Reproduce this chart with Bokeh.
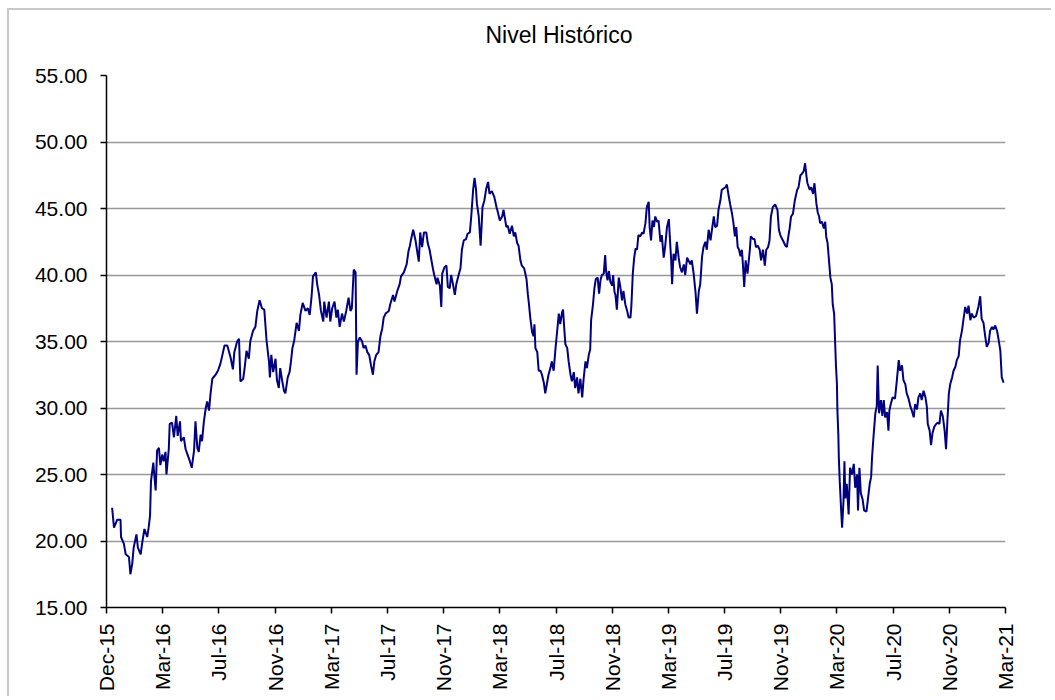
from bokeh.plotting import figure
from bokeh.models import FixedTicker, Range1d, Title
from bokeh.embed import file_html
from bokeh.resources import INLINE

# ---- data (x = days since axis start 1-Dec-2015) ----
days = [12,16,23,30,31,37,41,48,51,55,58,64,67,73,76,81,87,90,93,95,100,102,105,108,112,115,119,122,126,128,
        133,135,140,144,149,152,157,159,165,169,174,178,182,187,190,194,197,201,204,208,212,215,219,222,226,233,
        238,243,247,252,258,265,270,273,279,283,286,292,295,299,304,307,313,318,322,327,
        332,337,342,347,349,352,356,361,364,368,371,375,379,382,387,391,394,397,401,406,411,414,419,425,430,434,
        438,441,447,450,454,458,463,465,470,475,478,482,487,491,494,498,503,507,512,517,521,524,528,532,534,537,
        541,546,549,553,557,561,565,569,572,576,581,585,589,592,596,603,606,612,615,621,626,629,635,641,645,
        648,650,655,660,663,667,670,674,678,683,686,690,693,697,700,705,707,712,715,717,722,726,729,733,736,740,
        744,747,752,756,759,763,768,771,776,779,783,786,789,791,795,799,801,803,807,811,815,818,823,828,833,836,
        840,845,848,854,857,861,866,870,873,877,880,884,887,892,897,900,902,905,909,912,914,916,920,923,927,930,
        934,937,941,944,
        948,951,955,959,962,966,969,973,975,978,980,984,987,991,994,998,1001,1005,1008,1012,1016,1019,1023,1026,
        1030,1033,1035,1039,1042,1045,1049,1052,1055,1058,1062,1065,1067,1070,1073,1076,1080,1082,1085,1087,1090,
        1094,1097,1101,1104,1108,1112,1115,1119,1121,1124,1127,1130,1133,1136,1140,1144,1147,1151,1154,1158,1160,
        1163,1166,1169,1172,1176,1179,1183,1186,1190,1193,1197,1201,1203,1206,1208,1211,1215,1218,1222,1225,1229,
        1233,1236,1240,1243,1247,1250,1254,1258,1261,1265,
        1268,1272,1275,1279,1282,1286,1290,1293,1297,1300,1304,1307,1311,1314,1318,1322,1325,1329,1332,1336,1339,
        1342,1345,1348,1351,1354,1357,1359,1362,1365,1369,1374,1376,1381,1384,1387,1391,1395,1398,1402,1406,1409,
        1413,1416,1419,1423,1428,1433,1436,1439,1443,1446,1450,1453,1457,1459,1462,1466,1470,1475,1478,1482,1485,
        1489,1492,1495,1497,1502,1505,1509,1512,1516,1519,1522,1524,1528,1532,1535,1537,1540,1543,1546,1549,1551,
        1554,1556,1558,1560,1561,1563,1564,1566,1569,1571,1574,1576,1578,1581,1585,
        1588,1592,1596,1599,1603,1605,1608,1611,1615,1618,1623,1626,1630,1633,1635,1638,1642,1645,1647,1650,1654,
        1657,1660,1663,1667,1670,1672,1675,1679,1684,1688,1692,1695,1699,1702,1706,1709,1713,1717,1720,1724,1727,
        1731,1734,1738,1741,1745,1749,1752,1754,1758,1761,1764,1768,1772,1775,1779,1782,1786,1790,1793,1796,1799,
        1802,1806,1809,1813,1816,1820,1823,1827,1830,1834,1838,1841,1845,1848,1852,1857,1862,1866,1869,1873,1877,
        1880,1884,1887,1891,1894,1898,1902,1905,1909,1912,1916]

values = [22.5,21.0,21.6,21.6,20.3,19.8,19.0,18.8,17.5,18.3,19.5,20.5,19.5,19.0,19.8,20.9,20.3,21.0,21.9,24.5,
          25.9,25.0,23.8,26.8,27.0,25.7,26.5,26.0,26.7,25.0,26.9,28.8,28.9,27.8,29.4,27.9,29.0,27.5,27.8,26.9,
          26.4,26.0,25.5,26.8,29.0,27.0,26.7,28.0,27.5,29.0,30.0,30.5,29.8,31.0,32.2,32.5,32.8,33.3,33.9,34.7,
          34.7,33.8,32.9,34.2,35.0,35.2,32.0,32.2,33.0,34.3,33.7,35.0,35.8,36.1,37.3,38.1,
          37.5,37.4,35.0,33.5,32.3,34.0,32.7,33.7,32.1,31.5,33.0,32.1,31.3,31.1,32.3,32.7,33.5,34.5,35.1,36.4,
          35.8,37.0,37.9,37.3,37.5,37.0,38.4,39.9,40.2,39.3,38.5,37.3,36.5,38.0,36.8,38.0,36.5,37.5,38.0,36.8,
          37.4,36.1,37.1,36.5,37.3,38.3,37.3,37.5,40.4,40.2,32.5,35.0,35.3,35.0,34.5,34.7,34.2,34.0,33.2,32.5,
          33.5,34.0,34.2,35.4,36.0,36.8,37.1,37.3,37.8,38.5,38.0,38.8,39.3,39.9,40.2,40.8,41.8,
          42.2,42.6,43.4,42.6,41.9,41.0,43.2,42.1,43.2,43.2,42.4,41.9,41.3,40.5,40.0,39.3,39.8,39.2,37.6,40.1,
          40.6,40.7,39.1,39.0,40.0,39.3,38.5,39.3,40.0,40.5,41.9,42.6,42.7,43.1,43.2,44.4,46.4,47.3,46.5,45.4,
          44.4,42.2,43.6,45.1,45.6,46.5,47.0,46.1,46.3,45.9,45.1,44.7,44.1,44.4,44.9,43.6,43.7,43.1,43.7,42.9,
          43.2,42.4,42.2,41.1,40.7,40.5,39.7,38.5,37.9,36.8,35.7,35.4,36.3,34.5,34.2,32.8,32.8,32.5,31.9,31.1,
          31.9,32.5,
          33.0,33.5,32.8,34.5,35.6,37.1,36.3,37.2,37.4,35.8,34.8,34.5,33.5,32.5,32.0,32.7,31.5,32.3,31.1,32.2,
          30.8,32.2,33.5,33.0,34.0,34.4,36.6,37.8,39.0,39.7,39.8,38.6,39.6,40.0,40.1,41.5,40.3,39.6,40.3,39.5,
          39.2,40.0,38.7,38.5,37.4,39.8,39.2,38.1,38.8,37.8,37.3,36.8,36.8,37.7,40.1,41.3,42.0,41.9,43.0,42.9,
          43.2,43.1,43.9,45.1,45.5,43.6,42.6,44.1,43.6,44.4,44.0,44.1,42.5,43.0,41.3,42.1,43.6,44.2,42.9,41.1,
          39.3,41.6,41.1,42.5,41.3,40.6,40.2,40.8,40.0,41.3,41.1,40.8,41.1,40.1,38.7,37.1,38.8,
          39.3,41.4,42.1,42.5,41.9,43.4,42.6,43.4,44.4,43.6,43.7,44.9,45.6,46.4,46.5,46.6,46.8,45.9,45.3,44.6,
          43.9,42.9,43.6,42.1,41.9,41.4,41.9,40.9,39.1,41.1,40.1,41.9,42.9,42.7,42.7,42.1,42.2,41.9,41.1,41.9,
          40.7,41.9,42.1,42.6,44.4,45.1,45.3,44.9,43.4,43.0,42.7,42.5,42.2,42.1,43.1,43.5,44.4,44.6,45.6,46.4,
          46.6,47.5,47.6,47.8,48.4,47.4,46.9,46.4,46.6,46.1,46.9,45.4,44.7,44.4,43.9,44.0,43.5,44.0,42.9,42.4,
          41.1,39.8,39.3,37.8,37.1,35.1,33.1,31.8,29.8,28.0,26.3,24.5,22.3,21.0,23.0,26.0,23.2,24.3,22.0,
          25.5,25.0,25.8,24.0,25.0,22.3,25.5,23.6,23.1,22.3,22.2,23.1,24.3,24.8,26.3,27.8,29.6,30.1,33.2,29.6,
          30.6,29.4,30.6,29.3,29.7,28.3,29.8,30.3,30.8,30.7,32.1,33.6,32.8,33.2,32.1,31.8,31.1,30.7,30.1,29.8,
          29.3,30.3,29.9,30.8,31.1,30.6,31.3,30.8,30.1,28.8,28.3,27.2,28.1,28.6,28.8,28.9,28.8,29.8,29.4,28.3,
          26.9,29.1,31.1,31.8,32.3,32.8,33.1,33.6,33.9,35.1,35.8,36.6,37.6,37.1,37.7,36.6,37.1,36.8,36.9,37.6,
          38.4,36.7,36.4,35.3,34.6,34.9,35.8,36.1,35.9,36.2,35.8,35.2,34.3,32.3,31.9]

tick_days = [0, 120, 240, 360, 480, 600, 720, 840, 960, 1080, 1200, 1320, 1440, 1560, 1680, 1800, 1920]
tick_labels = ["Dec-15", "Mar-16", "Jul-16", "Nov-16", "Mar-17", "Jul-17", "Nov-17", "Mar-18", "Jul-18",
               "Nov-18", "Mar-19", "Jul-19", "Nov-19", "Mar-20", "Jul-20", "Nov-20", "Mar-21"]
y_ticks = [15, 20, 25, 30, 35, 40, 45, 50, 55]

FONT = "Liberation Sans"

p = figure(width=1044, height=688, output_backend="svg", toolbar_location=None,
           x_range=Range1d(tick_days[0], tick_days[-1]), y_range=Range1d(15, 55),
           min_border_left=97, min_border_right=48, min_border_top=65, min_border_bottom=91)
p.styles = {"margin-left": "7px", "margin-top": "8px",
            "border-left": "2px solid #c8c8c8", "border-top": "2px solid #c8c8c8"}
p.background_fill_color = "white"
p.border_fill_color = "white"
p.outline_line_color = None

# small empty spacer between frame and the title, so the title sits higher up
spacer = Title(text=" ", text_font=FONT, text_font_size="1px", standoff=12)
p.add_layout(spacer, "above")
t = Title(text="Nivel Histórico", align="left", vertical_align="top", text_font=FONT,
          text_font_size="23px", text_font_style="normal", text_color="#000000",
          standoff=22, offset=379)
p.add_layout(t, "above")

p.line(days, values, line_color="#000080", line_width=2)

# axes
p.xaxis.ticker = FixedTicker(ticks=tick_days)
p.xaxis.major_label_overrides = {d: l for d, l in zip(tick_days, tick_labels)}
p.xaxis.major_label_orientation = 3.14159265 / 2
p.yaxis.ticker = FixedTicker(ticks=y_ticks)
p.yaxis.major_label_overrides = {v: f"{v:.2f}" for v in y_ticks}
for ax in (p.xaxis, p.yaxis):
    ax.axis_line_color = "black"
    ax.axis_line_width = 1.5
    ax.major_tick_line_color = "black"
    ax.major_tick_line_width = 1.5
    ax.major_tick_out = 6
    ax.major_tick_in = 0
    ax.minor_tick_line_color = None
    ax.major_label_text_font = FONT
    ax.major_label_text_font_size = "21px"
    ax.major_label_text_color = "#000000"
p.xaxis.major_label_standoff = 10
p.yaxis.major_label_standoff = 13

p.xgrid.grid_line_color = None
p.ygrid.ticker = FixedTicker(ticks=y_ticks)
p.ygrid.grid_line_color = "#999999"
p.ygrid.grid_line_width = 1.5

open("out.html", "w").write(file_html(p, INLINE))
